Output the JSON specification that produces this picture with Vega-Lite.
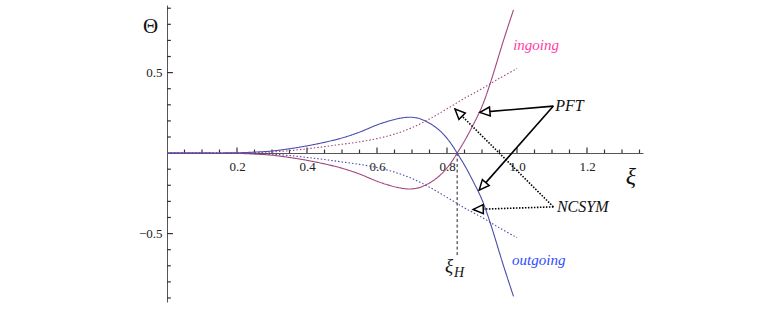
{
  "$schema": "https://vega.github.io/schema/vega-lite/v6.json",
  "width": 476,
  "height": 297,
  "autosize": {"type": "none"},
  "padding": {"left": 167, "top": 5, "right": 119, "bottom": 16},
  "config": {
    "view": {"stroke": null},
    "axis": {
      "grid": false, "title": null,
      "labelFont": "Liberation Serif", "labelFontSize": 13, "labelColor": "#222",
      "domainColor": "#555", "domainWidth": 1,
      "labelOverlap": false, "labelFlush": false, "labelBound": false
    }
  },
  "datasets": {
    "curves": [
      {"wave": "ingoing", "method": "PFT", "x": 0, "y": 0},
      {"wave": "ingoing", "method": "PFT", "x": 0.1, "y": -0.0002},
      {"wave": "ingoing", "method": "PFT", "x": 0.2, "y": -0.002},
      {"wave": "ingoing", "method": "PFT", "x": 0.25, "y": -0.006},
      {"wave": "ingoing", "method": "PFT", "x": 0.3, "y": -0.013},
      {"wave": "ingoing", "method": "PFT", "x": 0.35, "y": -0.027},
      {"wave": "ingoing", "method": "PFT", "x": 0.4, "y": -0.045},
      {"wave": "ingoing", "method": "PFT", "x": 0.45, "y": -0.067},
      {"wave": "ingoing", "method": "PFT", "x": 0.5, "y": -0.094},
      {"wave": "ingoing", "method": "PFT", "x": 0.55, "y": -0.13},
      {"wave": "ingoing", "method": "PFT", "x": 0.6, "y": -0.175},
      {"wave": "ingoing", "method": "PFT", "x": 0.64, "y": -0.203},
      {"wave": "ingoing", "method": "PFT", "x": 0.67, "y": -0.218},
      {"wave": "ingoing", "method": "PFT", "x": 0.695, "y": -0.223},
      {"wave": "ingoing", "method": "PFT", "x": 0.72, "y": -0.215},
      {"wave": "ingoing", "method": "PFT", "x": 0.74, "y": -0.197},
      {"wave": "ingoing", "method": "PFT", "x": 0.76, "y": -0.172},
      {"wave": "ingoing", "method": "PFT", "x": 0.78, "y": -0.138},
      {"wave": "ingoing", "method": "PFT", "x": 0.8, "y": -0.092},
      {"wave": "ingoing", "method": "PFT", "x": 0.815, "y": -0.048},
      {"wave": "ingoing", "method": "PFT", "x": 0.829, "y": 0},
      {"wave": "ingoing", "method": "PFT", "x": 0.85, "y": 0.075},
      {"wave": "ingoing", "method": "PFT", "x": 0.871, "y": 0.16},
      {"wave": "ingoing", "method": "PFT", "x": 0.9, "y": 0.29},
      {"wave": "ingoing", "method": "PFT", "x": 0.926, "y": 0.45},
      {"wave": "ingoing", "method": "PFT", "x": 0.96, "y": 0.69},
      {"wave": "ingoing", "method": "PFT", "x": 0.99, "y": 0.89},
      {"wave": "outgoing", "method": "PFT", "x": 0, "y": 0},
      {"wave": "outgoing", "method": "PFT", "x": 0.1, "y": 0.0002},
      {"wave": "outgoing", "method": "PFT", "x": 0.2, "y": 0.002},
      {"wave": "outgoing", "method": "PFT", "x": 0.25, "y": 0.006},
      {"wave": "outgoing", "method": "PFT", "x": 0.3, "y": 0.013},
      {"wave": "outgoing", "method": "PFT", "x": 0.35, "y": 0.027},
      {"wave": "outgoing", "method": "PFT", "x": 0.4, "y": 0.045},
      {"wave": "outgoing", "method": "PFT", "x": 0.45, "y": 0.067},
      {"wave": "outgoing", "method": "PFT", "x": 0.5, "y": 0.094},
      {"wave": "outgoing", "method": "PFT", "x": 0.55, "y": 0.13},
      {"wave": "outgoing", "method": "PFT", "x": 0.6, "y": 0.175},
      {"wave": "outgoing", "method": "PFT", "x": 0.64, "y": 0.203},
      {"wave": "outgoing", "method": "PFT", "x": 0.67, "y": 0.218},
      {"wave": "outgoing", "method": "PFT", "x": 0.695, "y": 0.223},
      {"wave": "outgoing", "method": "PFT", "x": 0.72, "y": 0.215},
      {"wave": "outgoing", "method": "PFT", "x": 0.74, "y": 0.197},
      {"wave": "outgoing", "method": "PFT", "x": 0.76, "y": 0.172},
      {"wave": "outgoing", "method": "PFT", "x": 0.78, "y": 0.138},
      {"wave": "outgoing", "method": "PFT", "x": 0.8, "y": 0.092},
      {"wave": "outgoing", "method": "PFT", "x": 0.815, "y": 0.048},
      {"wave": "outgoing", "method": "PFT", "x": 0.829, "y": 0},
      {"wave": "outgoing", "method": "PFT", "x": 0.85, "y": -0.075},
      {"wave": "outgoing", "method": "PFT", "x": 0.871, "y": -0.16},
      {"wave": "outgoing", "method": "PFT", "x": 0.9, "y": -0.29},
      {"wave": "outgoing", "method": "PFT", "x": 0.926, "y": -0.45},
      {"wave": "outgoing", "method": "PFT", "x": 0.96, "y": -0.69},
      {"wave": "outgoing", "method": "PFT", "x": 0.99, "y": -0.89},
      {"wave": "ingoing", "method": "NCSYM", "x": 0, "y": 0},
      {"wave": "ingoing", "method": "NCSYM", "x": 0.1, "y": 0.0001},
      {"wave": "ingoing", "method": "NCSYM", "x": 0.2, "y": 0.001},
      {"wave": "ingoing", "method": "NCSYM", "x": 0.25, "y": 0.003},
      {"wave": "ingoing", "method": "NCSYM", "x": 0.3, "y": 0.007},
      {"wave": "ingoing", "method": "NCSYM", "x": 0.35, "y": 0.015},
      {"wave": "ingoing", "method": "NCSYM", "x": 0.4, "y": 0.027},
      {"wave": "ingoing", "method": "NCSYM", "x": 0.45, "y": 0.04},
      {"wave": "ingoing", "method": "NCSYM", "x": 0.5, "y": 0.055},
      {"wave": "ingoing", "method": "NCSYM", "x": 0.55, "y": 0.07},
      {"wave": "ingoing", "method": "NCSYM", "x": 0.6, "y": 0.09},
      {"wave": "ingoing", "method": "NCSYM", "x": 0.65, "y": 0.118},
      {"wave": "ingoing", "method": "NCSYM", "x": 0.7, "y": 0.158},
      {"wave": "ingoing", "method": "NCSYM", "x": 0.75, "y": 0.212},
      {"wave": "ingoing", "method": "NCSYM", "x": 0.8, "y": 0.275},
      {"wave": "ingoing", "method": "NCSYM", "x": 0.85, "y": 0.34},
      {"wave": "ingoing", "method": "NCSYM", "x": 0.9, "y": 0.4},
      {"wave": "ingoing", "method": "NCSYM", "x": 0.95, "y": 0.465},
      {"wave": "ingoing", "method": "NCSYM", "x": 1.0, "y": 0.525},
      {"wave": "outgoing", "method": "NCSYM", "x": 0, "y": 0},
      {"wave": "outgoing", "method": "NCSYM", "x": 0.1, "y": -0.0001},
      {"wave": "outgoing", "method": "NCSYM", "x": 0.2, "y": -0.001},
      {"wave": "outgoing", "method": "NCSYM", "x": 0.25, "y": -0.003},
      {"wave": "outgoing", "method": "NCSYM", "x": 0.3, "y": -0.007},
      {"wave": "outgoing", "method": "NCSYM", "x": 0.35, "y": -0.015},
      {"wave": "outgoing", "method": "NCSYM", "x": 0.4, "y": -0.027},
      {"wave": "outgoing", "method": "NCSYM", "x": 0.45, "y": -0.04},
      {"wave": "outgoing", "method": "NCSYM", "x": 0.5, "y": -0.055},
      {"wave": "outgoing", "method": "NCSYM", "x": 0.55, "y": -0.07},
      {"wave": "outgoing", "method": "NCSYM", "x": 0.6, "y": -0.09},
      {"wave": "outgoing", "method": "NCSYM", "x": 0.65, "y": -0.118},
      {"wave": "outgoing", "method": "NCSYM", "x": 0.7, "y": -0.158},
      {"wave": "outgoing", "method": "NCSYM", "x": 0.75, "y": -0.212},
      {"wave": "outgoing", "method": "NCSYM", "x": 0.8, "y": -0.275},
      {"wave": "outgoing", "method": "NCSYM", "x": 0.85, "y": -0.34},
      {"wave": "outgoing", "method": "NCSYM", "x": 0.9, "y": -0.4},
      {"wave": "outgoing", "method": "NCSYM", "x": 0.95, "y": -0.465},
      {"wave": "outgoing", "method": "NCSYM", "x": 1.0, "y": -0.525}
    ],
    "xTicks": [
      {"v": 0.05, "kind": "minor"}, {"v": 0.1, "kind": "minor"}, {"v": 0.15, "kind": "minor"}, {"v": 0.2, "kind": "major"},
      {"v": 0.25, "kind": "minor"}, {"v": 0.3, "kind": "minor"}, {"v": 0.35, "kind": "minor"}, {"v": 0.4, "kind": "major"},
      {"v": 0.45, "kind": "minor"}, {"v": 0.5, "kind": "minor"}, {"v": 0.55, "kind": "minor"}, {"v": 0.6, "kind": "major"},
      {"v": 0.65, "kind": "minor"}, {"v": 0.7, "kind": "minor"}, {"v": 0.75, "kind": "minor"}, {"v": 0.8, "kind": "major"},
      {"v": 0.85, "kind": "minor"}, {"v": 0.9, "kind": "minor"}, {"v": 0.95, "kind": "minor"}, {"v": 1.0, "kind": "major"},
      {"v": 1.05, "kind": "minor"}, {"v": 1.1, "kind": "minor"}, {"v": 1.15, "kind": "minor"}, {"v": 1.2, "kind": "major"},
      {"v": 1.25, "kind": "minor"}, {"v": 1.3, "kind": "minor"}, {"v": 1.35, "kind": "minor"}
    ],
    "yTicks": [
      {"v": -0.9, "kind": "minor"}, {"v": -0.8, "kind": "minor"}, {"v": -0.7, "kind": "minor"}, {"v": -0.6, "kind": "minor"},
      {"v": -0.5, "kind": "major"}, {"v": -0.4, "kind": "minor"}, {"v": -0.3, "kind": "minor"}, {"v": -0.2, "kind": "minor"},
      {"v": -0.1, "kind": "minor"}, {"v": 0.1, "kind": "minor"}, {"v": 0.2, "kind": "minor"}, {"v": 0.3, "kind": "minor"},
      {"v": 0.4, "kind": "minor"}, {"v": 0.5, "kind": "major"}, {"v": 0.6, "kind": "minor"}, {"v": 0.7, "kind": "minor"},
      {"v": 0.8, "kind": "minor"}, {"v": 0.9, "kind": "minor"}
    ],
    "arrows": [
      {"id": "PFT-up", "method": "PFT", "x0": 1.104, "y0": 0.292, "x": 0.894, "y": 0.253},
      {"id": "PFT-down", "method": "PFT", "x0": 1.104, "y0": 0.292, "x": 0.892, "y": -0.23},
      {"id": "NCSYM-up", "method": "NCSYM", "x0": 1.104, "y0": -0.334, "x": 0.823, "y": 0.273},
      {"id": "NCSYM-down", "method": "NCSYM", "x0": 1.104, "y0": -0.334, "x": 0.875, "y": -0.35}
    ],
    "methodLabels": [
      {"text": "PFT", "x": 1.109, "y": 0.292},
      {"text": "NCSYM", "x": 1.114, "y": -0.332}
    ],
    "waveLabels": [
      {"text": "ingoing", "x": 0.989, "y": 0.64},
      {"text": "outgoing", "x": 0.986, "y": -0.696}
    ],
    "horizon": [
      {"x": 0.829, "y": 0, "y2": -0.646}
    ],
    "axisTitles": [
      {"text": "Θ", "x": -0.047, "y": 0.745}
    ],
    "xTitle": [
      {"text": "ξ", "x": 1.311, "y": -0.19}
    ],
    "horizonLabel": [
      {"text": "ξ", "x": 0.794, "y": -0.739}
    ],
    "horizonSub": [
      {"text": "H", "x": 0.82, "y": -0.767}
    ]
  },
  "layer": [
    {
      "data": {"name": "horizon"},
      "mark": {"type": "rule", "color": "#222", "strokeWidth": 1, "strokeDash": [3, 2.5]},
      "encoding": {
        "x": {"field": "x", "type": "quantitative", "scale": {"domain": [0, 1.36], "nice": false, "zero": false},
          "axis": {"orient": "bottom", "offset": -149, "values": [0.2, 0.4, 0.6, 0.8, 1.0, 1.2], "format": ".1f", "ticks": false, "labelPadding": 7}},
        "y": {"field": "y", "type": "quantitative", "scale": {"domain": [-0.925, 0.92], "nice": false, "zero": false},
          "axis": {"orient": "left", "values": [-0.5, 0.5], "format": ".1f", "ticks": false, "labelPadding": 5}},
        "y2": {"field": "y2"}
      }
    },
    {
      "data": {"name": "xTicks"},
      "transform": [{"filter": "datum.kind == 'major'"}],
      "mark": {"type": "rule", "color": "#333", "strokeWidth": 1.2},
      "encoding": {"x": {"field": "v", "type": "quantitative"}, "y": {"datum": 0}, "y2": {"datum": 0.034}}
    },
    {
      "data": {"name": "xTicks"},
      "transform": [{"filter": "datum.kind == 'minor'"}],
      "mark": {"type": "rule", "color": "#333", "strokeWidth": 1.2},
      "encoding": {"x": {"field": "v", "type": "quantitative"}, "y": {"datum": 0}, "y2": {"datum": 0.022}}
    },
    {
      "data": {"name": "yTicks"},
      "transform": [{"filter": "datum.kind == 'major'"}],
      "mark": {"type": "rule", "color": "#333", "strokeWidth": 1.2},
      "encoding": {"y": {"field": "v", "type": "quantitative"}, "x": {"datum": 0}, "x2": {"datum": 0.017}}
    },
    {
      "data": {"name": "yTicks"},
      "transform": [{"filter": "datum.kind == 'minor'"}],
      "mark": {"type": "rule", "color": "#333", "strokeWidth": 1.2},
      "encoding": {"y": {"field": "v", "type": "quantitative"}, "x": {"datum": 0}, "x2": {"datum": 0.011}}
    },
    {
      "data": {"name": "curves"},
      "mark": {"type": "line", "strokeWidth": 1.1, "interpolate": "cardinal"},
      "encoding": {
        "x": {"field": "x", "type": "quantitative"},
        "y": {"field": "y", "type": "quantitative"},
        "color": {"field": "wave", "type": "nominal", "legend": null,
          "scale": {"domain": ["ingoing", "outgoing"], "range": ["#a2467f", "#4c4caa"]}},
        "strokeDash": {"field": "method", "type": "nominal", "legend": null,
          "scale": {"domain": ["PFT", "NCSYM"], "range": [[1, 0], [1.5, 2]]}}
      }
    },
    {
      "data": {"name": "arrows"},
      "transform": [{"filter": "datum.method == 'PFT'"}],
      "mark": {"type": "rule", "color": "black", "strokeWidth": 1.6},
      "encoding": {
        "x": {"field": "x0", "type": "quantitative"},
        "y": {"field": "y0", "type": "quantitative"},
        "x2": {"field": "x"},
        "y2": {"field": "y"}
      }
    },
    {
      "data": {"name": "arrows"},
      "transform": [{"filter": "datum.method == 'NCSYM'"}],
      "mark": {"type": "rule", "color": "black", "strokeWidth": 1.6, "strokeDash": [1.5, 1.5]},
      "encoding": {
        "x": {"field": "x0", "type": "quantitative"},
        "y": {"field": "y0", "type": "quantitative"},
        "x2": {"field": "x"},
        "y2": {"field": "y"}
      }
    },
    {
      "data": {"name": "arrows"},
      "transform": [{"filter": "datum.id == 'PFT-up'"}],
      "mark": {"type": "point", "shape": "M0,0L-0.45,1L0.45,1Z", "size": 400, "filled": true, "fill": "white", "stroke": "black", "strokeWidth": 1.5, "opacity": 1, "angle": 265},
      "encoding": {"x": {"field": "x", "type": "quantitative"}, "y": {"field": "y", "type": "quantitative"}}
    },
    {
      "data": {"name": "arrows"},
      "transform": [{"filter": "datum.id == 'PFT-down'"}],
      "mark": {"type": "point", "shape": "M0,0L-0.45,1L0.45,1Z", "size": 400, "filled": true, "fill": "white", "stroke": "black", "strokeWidth": 1.5, "opacity": 1, "angle": 221},
      "encoding": {"x": {"field": "x", "type": "quantitative"}, "y": {"field": "y", "type": "quantitative"}}
    },
    {
      "data": {"name": "arrows"},
      "transform": [{"filter": "datum.id == 'NCSYM-up'"}],
      "mark": {"type": "point", "shape": "M0,0L-0.45,1L0.45,1Z", "size": 400, "filled": true, "fill": "white", "stroke": "black", "strokeWidth": 1.5, "opacity": 1, "angle": 315},
      "encoding": {"x": {"field": "x", "type": "quantitative"}, "y": {"field": "y", "type": "quantitative"}}
    },
    {
      "data": {"name": "arrows"},
      "transform": [{"filter": "datum.id == 'NCSYM-down'"}],
      "mark": {"type": "point", "shape": "M0,0L-0.45,1L0.45,1Z", "size": 400, "filled": true, "fill": "white", "stroke": "black", "strokeWidth": 1.5, "opacity": 1, "angle": 268},
      "encoding": {"x": {"field": "x", "type": "quantitative"}, "y": {"field": "y", "type": "quantitative"}}
    },
    {
      "data": {"name": "methodLabels"},
      "mark": {"type": "text", "align": "left", "baseline": "middle", "font": "Liberation Serif", "fontStyle": "italic", "fontSize": 16, "color": "#111"},
      "encoding": {"x": {"field": "x", "type": "quantitative"}, "y": {"field": "y", "type": "quantitative"}, "text": {"field": "text"}}
    },
    {
      "data": {"name": "waveLabels"},
      "transform": [{"filter": "datum.text == 'ingoing'"}],
      "mark": {"type": "text", "align": "left", "baseline": "alphabetic", "font": "Liberation Serif", "fontStyle": "italic", "fontSize": 15, "color": "#ff3ea5"},
      "encoding": {"x": {"field": "x", "type": "quantitative"}, "y": {"field": "y", "type": "quantitative"}, "text": {"field": "text"}}
    },
    {
      "data": {"name": "waveLabels"},
      "transform": [{"filter": "datum.text == 'outgoing'"}],
      "mark": {"type": "text", "align": "left", "baseline": "alphabetic", "font": "Liberation Serif", "fontStyle": "italic", "fontSize": 15, "color": "#2f4cff"},
      "encoding": {"x": {"field": "x", "type": "quantitative"}, "y": {"field": "y", "type": "quantitative"}, "text": {"field": "text"}}
    },
    {
      "data": {"name": "axisTitles"},
      "mark": {"type": "text", "align": "center", "baseline": "alphabetic", "font": "Liberation Serif", "fontSize": 21, "color": "#111"},
      "encoding": {"x": {"field": "x", "type": "quantitative"}, "y": {"field": "y", "type": "quantitative"}, "text": {"field": "text"}}
    },
    {
      "data": {"name": "xTitle"},
      "mark": {"type": "text", "align": "left", "baseline": "alphabetic", "font": "Liberation Serif", "fontStyle": "italic", "fontSize": 24, "color": "#111"},
      "encoding": {"x": {"field": "x", "type": "quantitative"}, "y": {"field": "y", "type": "quantitative"}, "text": {"field": "text"}}
    },
    {
      "data": {"name": "horizonLabel"},
      "mark": {"type": "text", "align": "left", "baseline": "alphabetic", "font": "Liberation Serif", "fontStyle": "italic", "fontSize": 19, "color": "#111"},
      "encoding": {"x": {"field": "x", "type": "quantitative"}, "y": {"field": "y", "type": "quantitative"}, "text": {"field": "text"}}
    },
    {
      "data": {"name": "horizonSub"},
      "mark": {"type": "text", "align": "left", "baseline": "alphabetic", "font": "Liberation Serif", "fontStyle": "italic", "fontSize": 14, "color": "#111"},
      "encoding": {"x": {"field": "x", "type": "quantitative"}, "y": {"field": "y", "type": "quantitative"}, "text": {"field": "text"}}
    }
  ]
}
